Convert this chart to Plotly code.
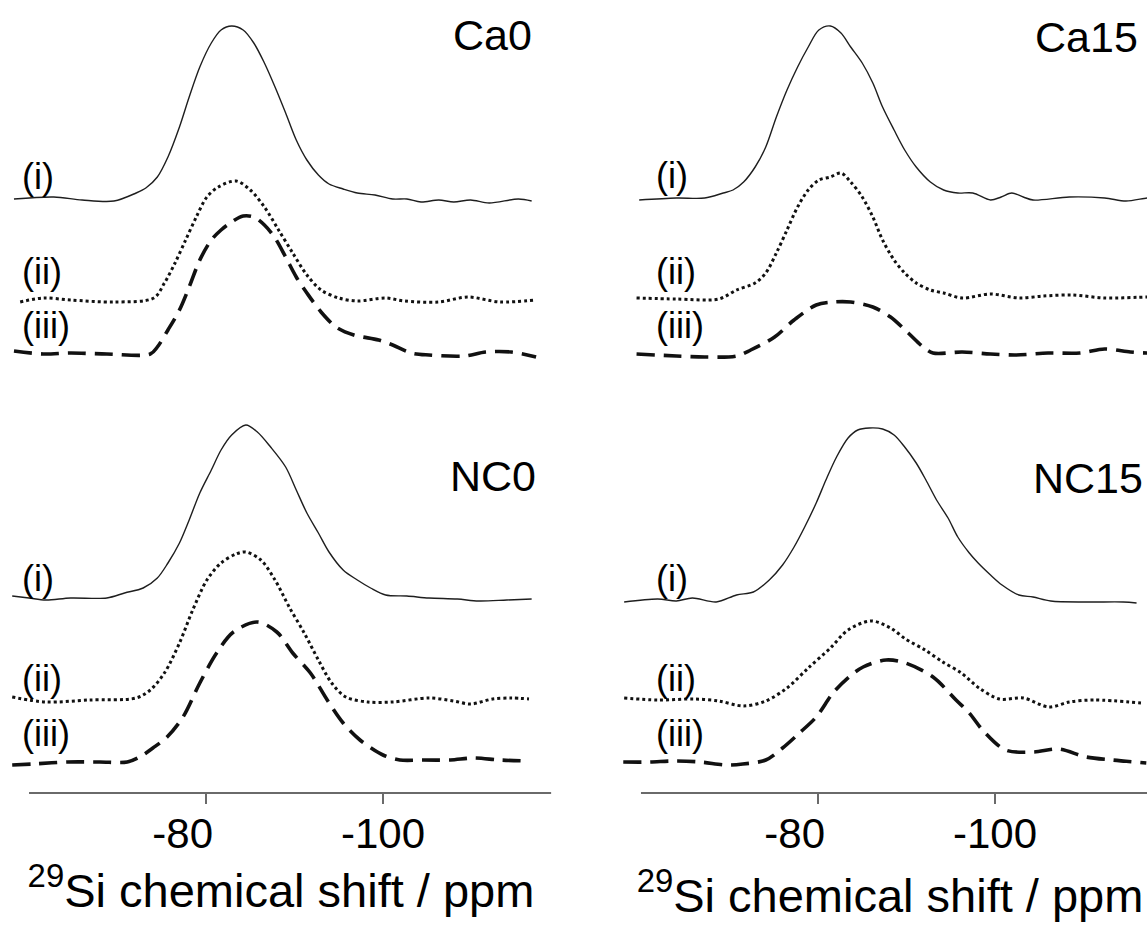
import plotly.graph_objects as go

W, H = 1147, 928

# ---------------- data (29Si chemical shift in ppm, intensity in a.u.) ----------------
PANELS = ["Ca0", "Ca15", "NC0", "NC15"]
SERIES = ["(i)", "(ii)", "(iii)"]
TICK_VALUES = [-80, -100]
TICK_TEXT = ["-80\u00a0\u00a0\u00a0\u00a0", "-100"]
AXIS_TITLE = "<sup>29</sup>Si chemical shift / ppm"

# Ca0
CA0_I_PPM = [-58.3, -62.8, -66.0, -69.6, -72.1, -73.2, -74.5, -75.7, -77.0, -78.1, -79.3, -80.6, -81.7, -82.9, -84.2,
             -85.4, -86.6, -87.8, -89.0, -90.2, -91.4, -92.7, -93.9, -95.5, -97.1, -99.1, -101.1, -102.7, -104.3,
             -106.3, -108.0, -109.9, -112.0, -115.3, -116.8]
CA0_I_INT = [1, 3, 0, -1, 7, 12, 23, 43, 73, 103, 133, 157, 170, 174, 170, 157, 137, 113, 87, 60, 40, 25, 16, 11, 7,
             5, 1, 1, -2, 0, -2, 0, -3, 1, -1]
CA0_II_PPM = [-59.0, -61.6, -64.7, -69.6, -74.1, -75.3, -76.5, -77.7, -78.9, -80.1, -81.4, -83.4, -85.0, -86.6, -88.2,
              -89.8, -91.4, -93.0, -95.0, -97.1, -100.3, -102.4, -106.3, -109.6, -113.2, -117.3]
CA0_II_INT = [-1, 3, 1, -1, 3, 18, 38, 61, 84, 104, 114, 120, 111, 94, 71, 48, 26, 11, 3, 0, 3, 0, -1, 4, -1, 1]
CA0_III_PPM = [-58.3, -61.6, -64.7, -68.8, -73.7, -74.5, -75.7, -77.0, -78.1, -79.3, -80.6, -81.7, -82.9, -84.2, -85.4,
               -86.6, -87.8, -89.0, -90.2, -91.4, -93.0, -94.7, -96.7, -99.5, -101.1, -103.2, -105.2, -109.2, -111.6,
               -114.5, -117.3]
CA0_III_INT = [3, 0, 1, 0, 0, 7, 24, 44, 67, 94, 114, 124, 132, 138, 137, 129, 116, 97, 77, 61, 42, 27, 19, 14, 9, 1,
               -1, -2, 2, 2, -3]

# Ca15
CA15_I_PPM = [-59.8, -64.0, -67.2, -69.3, -70.4, -71.6, -72.9, -74.1, -75.3, -76.5, -77.7, -78.9, -80.1, -81.4, -82.6,
              -83.7, -85.0, -86.2, -87.3, -88.6, -89.8, -91.1, -92.7, -94.2, -95.8, -97.5, -99.5, -100.7, -101.9,
              -103.2, -104.3, -108.4, -112.4, -114.8, -117.2, -117.8]
CA15_I_INT = [-1, 1, 1, 6, 9, 17, 32, 52, 82, 109, 132, 152, 169, 173, 166, 152, 136, 116, 92, 69, 49, 32, 17, 9, 6, 6,
              -1, 2, 6, 2, -1, 2, 1, -2, 1, 1]
CA15_II_PPM = [-59.5, -64.0, -68.8, -70.8, -72.9, -74.1, -75.3, -76.5, -77.7, -78.9, -80.1, -81.4, -82.6, -83.7, -85.0,
               -86.2, -87.3, -88.6, -89.8, -91.1, -92.7, -94.2, -96.3, -99.5, -102.7, -105.5, -108.8, -112.4, -117.2,
               -117.8]
CA15_II_INT = [0, -1, -1, 8, 15, 25, 45, 68, 91, 108, 118, 121, 125, 116, 101, 81, 58, 38, 25, 15, 8, 5, 0, 4, 0, 2, 3,
               0, 1, 1]
CA15_III_PPM = [-59.5, -64.0, -67.2, -70.8, -72.4, -75.1, -77.3, -79.8, -81.7, -83.7, -86.2, -88.2, -90.2, -91.9, -93.0,
                -96.3, -99.5, -102.4, -106.0, -109.6, -112.4, -115.3, -117.2, -117.8]
CA15_III_INT = [1, -1, -2, -1, 5, 18, 35, 50, 53, 53, 48, 38, 22, 8, 2, 3, 1, 0, 2, 2, 6, 3, 2, 2]

# NC0
NC0_I_PPM = [-58.1, -60.0, -61.9, -64.7, -68.8, -70.8, -72.9, -74.5, -75.7, -77.0, -78.1, -79.3, -80.6, -81.7, -82.9,
             -84.5, -85.8, -87.3, -89.0, -90.2, -91.4, -92.7, -93.9, -95.5, -97.1, -98.6, -100.3, -102.7, -105.2,
             -108.4, -110.8, -114.0, -116.8]
NC0_I_INT = [2, 0, -2, 0, 0, 5, 10, 20, 35, 55, 78, 105, 128, 148, 163, 173, 166, 151, 131, 108, 85, 65, 46, 28, 18,
             10, 3, 2, 0, -1, -3, -2, -1]
NC0_II_PPM = [-58.1, -61.9, -66.8, -72.1, -73.7, -75.3, -77.0, -78.5, -80.1, -81.7, -83.4, -84.5, -86.2, -87.8, -89.4,
              -91.1, -92.7, -94.2, -95.8, -98.3, -101.1, -105.2, -108.0, -109.9, -112.4, -114.5, -116.5]
NC0_II_INT = [3, -2, 0, 2, 10, 27, 57, 90, 120, 137, 146, 148, 140, 120, 93, 67, 40, 17, 3, -2, -2, 2, -1, -4, 1, 2, 1]
NC0_III_PPM = [-58.1, -60.5, -64.3, -68.0, -71.1, -72.5, -74.0, -75.6, -77.4, -79.3, -81.2, -83.1, -85.8, -88.0, -89.8,
               -91.8, -93.7, -95.5, -97.4, -100.0, -101.9, -104.5, -107.6, -110.2, -113.2, -116.2]
NC0_III_INT = [-3, -2, 0, 0, 0, 5, 14, 25, 45, 79, 109, 130, 140, 130, 109, 89, 62, 39, 22, 7, 2, 2, 2, 4, 2, 1]

# NC15
NC15_I_PPM = [-58.1, -61.9, -64.0, -65.8, -68.5, -70.8, -72.7, -74.5, -76.0, -77.3, -78.5, -79.8, -80.9, -82.1, -83.4,
              -84.5, -85.8, -87.3, -88.6, -89.8, -91.1, -92.2, -93.4, -94.7, -95.8, -97.1, -98.1, -99.5, -100.8,
              -102.7, -104.3, -106.3, -110.4, -114.5, -116.0]
NC15_I_INT = [-1, 2, 0, 3, -1, 6, 9, 21, 36, 54, 74, 98, 121, 144, 163, 171, 173, 172, 166, 154, 138, 121, 101, 83, 64,
              48, 38, 26, 16, 6, 4, 0, -1, -1, -2]
NC15_II_PPM = [-58.1, -61.9, -66.0, -68.8, -71.6, -74.1, -76.5, -78.9, -81.4, -83.4, -86.0, -88.2, -89.9, -92.1, -94.1,
               -96.2, -98.2, -100.5, -103.2, -106.1, -108.4, -111.2, -116.5]
NC15_II_INT = [2, 0, 1, -1, -6, -1, 12, 32, 52, 70, 79, 72, 61, 50, 38, 27, 12, 1, 2, -7, -2, 0, -3]
NC15_III_PPM = [-58.0, -61.0, -63.6, -66.7, -69.6, -71.5, -74.1, -76.0, -77.9, -79.8, -81.7, -83.5, -85.1, -87.7,
                -89.9, -93.0, -95.6, -97.1, -98.6, -101.2, -104.3, -107.2, -110.3, -113.3, -117.1]
NC15_III_INT = [0, 0, 1, 0, -3, -2, 2, 14, 29, 45, 69, 85, 95, 102, 99, 85, 62, 49, 32, 12, 10, 13, 5, 2, -1]

# vertical stacking offsets of (i), (ii), (iii) in each panel (a.u.)
OFFSETS = {"Ca0": [180, 79, 26], "Ca15": [181, 82, 25], "NC0": [195, 93, 31], "NC15": [192, 93, 31]}

SPECTRA = {
    "Ca0": [(CA0_I_PPM, CA0_I_INT), (CA0_II_PPM, CA0_II_INT), (CA0_III_PPM, CA0_III_INT)],
    "Ca15": [(CA15_I_PPM, CA15_I_INT), (CA15_II_PPM, CA15_II_INT), (CA15_III_PPM, CA15_III_INT)],
    "NC0": [(NC0_I_PPM, NC0_I_INT), (NC0_II_PPM, NC0_II_INT), (NC0_III_PPM, NC0_III_INT)],
    "NC15": [(NC15_I_PPM, NC15_I_INT), (NC15_II_PPM, NC15_II_INT), (NC15_III_PPM, NC15_III_INT)],
}

# ---------------- layout helpers ----------------
def fx(px):
    return px / W


def fy(py):
    return 1 - py / H


FONT = "Liberation Sans, Arial, Helvetica, sans-serif"
STYLES = [
    dict(color="#1e1e1e", width=1.4),
    dict(color="#111111", width=3.0, dash="3px,3px"),
    dict(color="#111111", width=3.6, dash="18px,9px"),
]

AXES = {"Ca0": ("x", "y"), "Ca15": ("x2", "y2"), "NC0": ("x3", "y3"), "NC15": ("x4", "y4")}

fig = go.Figure()
for name in PANELS:
    xa, ya = AXES[name]
    for k, (ppm, inten) in enumerate(SPECTRA[name]):
        off = OFFSETS[name][k]
        fig.add_trace(go.Scatter(
            x=ppm, y=[v + off for v in inten], xaxis=xa, yaxis=ya,
            mode="lines", line=dict(shape="spline", smoothing=0.9, **STYLES[k]),
            name=f"{name} {SERIES[k]}", showlegend=False, hoverinfo="skip"))

LEFT_DOM = [fx(10), fx(552)]
RIGHT_DOM = [fx(620), 1.0]
LEFT_RANGE = [-57.85, -119.10]
RIGHT_RANGE = [-57.63, -117.18]
TOP_DOM = [fy(380), 1.0]
BOT_DOM = [fy(793), fy(390)]

hidden_x = dict(visible=False, showgrid=False, zeroline=False, fixedrange=True)
hidden_y = dict(visible=False, showgrid=False, zeroline=False, fixedrange=True)
shown_x = dict(showgrid=False, zeroline=False, showline=False, ticks="outside", ticklen=10, tickwidth=1.5,
               tickcolor="#6a6a6a", tickvals=TICK_VALUES, ticktext=TICK_TEXT, ticklabelstandoff=-6,
               tickfont=dict(size=42, family=FONT, color="#000"), fixedrange=True)

fig.update_layout(
    width=W, height=H, margin=dict(l=0, r=0, t=0, b=0),
    paper_bgcolor="white", plot_bgcolor="white",
    font=dict(family=FONT, color="#000"),
    xaxis=dict(domain=LEFT_DOM, range=LEFT_RANGE, anchor="y", **hidden_x),
    xaxis2=dict(domain=RIGHT_DOM, range=RIGHT_RANGE, anchor="y2", **hidden_x),
    xaxis3=dict(domain=LEFT_DOM, range=LEFT_RANGE, anchor="y3",
                title=dict(text=AXIS_TITLE, font=dict(size=47, family=FONT), standoff=15), **shown_x),
    xaxis4=dict(domain=RIGHT_DOM, range=RIGHT_RANGE, anchor="y4",
                title=dict(text="\u200b\u00a0" + AXIS_TITLE, font=dict(size=47, family=FONT), standoff=22),
                **shown_x),
    yaxis=dict(domain=TOP_DOM, range=[0, 380], anchor="x", **hidden_y),
    yaxis2=dict(domain=TOP_DOM, range=[0, 380], anchor="x2", **hidden_y),
    yaxis3=dict(domain=BOT_DOM, range=[0, 403], anchor="x3", **hidden_y),
    yaxis4=dict(domain=BOT_DOM, range=[0, 403], anchor="x4", **hidden_y),
)

# axis lines (span -60 ... -119 ppm)
for xa in ("x3", "x4"):
    fig.add_shape(type="line", xref=xa, yref="paper", x0=-60, x1=-119, y0=fy(793), y1=fy(793),
                  line=dict(color="#6a6a6a", width=2))

# panel names
NAME_POS = {"Ca0": (534, 35), "Ca15": (1140, 37), "NC0": (538, 476), "NC15": (1145, 478)}
for name in PANELS:
    x, y = NAME_POS[name]
    fig.add_annotation(text=name, x=fx(x), y=fy(y), xref="paper", yref="paper", xanchor="right", yanchor="middle",
                       showarrow=False, font=dict(size=43, family=FONT, color="#000"))

# series labels
LABEL_X = {"Ca0": 20, "Ca15": 654, "NC0": 20, "NC15": 654}
LABEL_Y = {"Ca0": [176, 271, 326], "Ca15": [175, 271, 326], "NC0": [578, 678, 733], "NC15": [578, 678, 733]}
for name in PANELS:
    for k, lab in enumerate(SERIES):
        fig.add_annotation(text=lab, x=fx(LABEL_X[name]), y=fy(LABEL_Y[name][k]), xref="paper", yref="paper",
                           xanchor="left", yanchor="middle", showarrow=False,
                           font=dict(size=36, family=FONT, color="#000"))

fig.write_html("out.html", config={"displayModeBar": False})
